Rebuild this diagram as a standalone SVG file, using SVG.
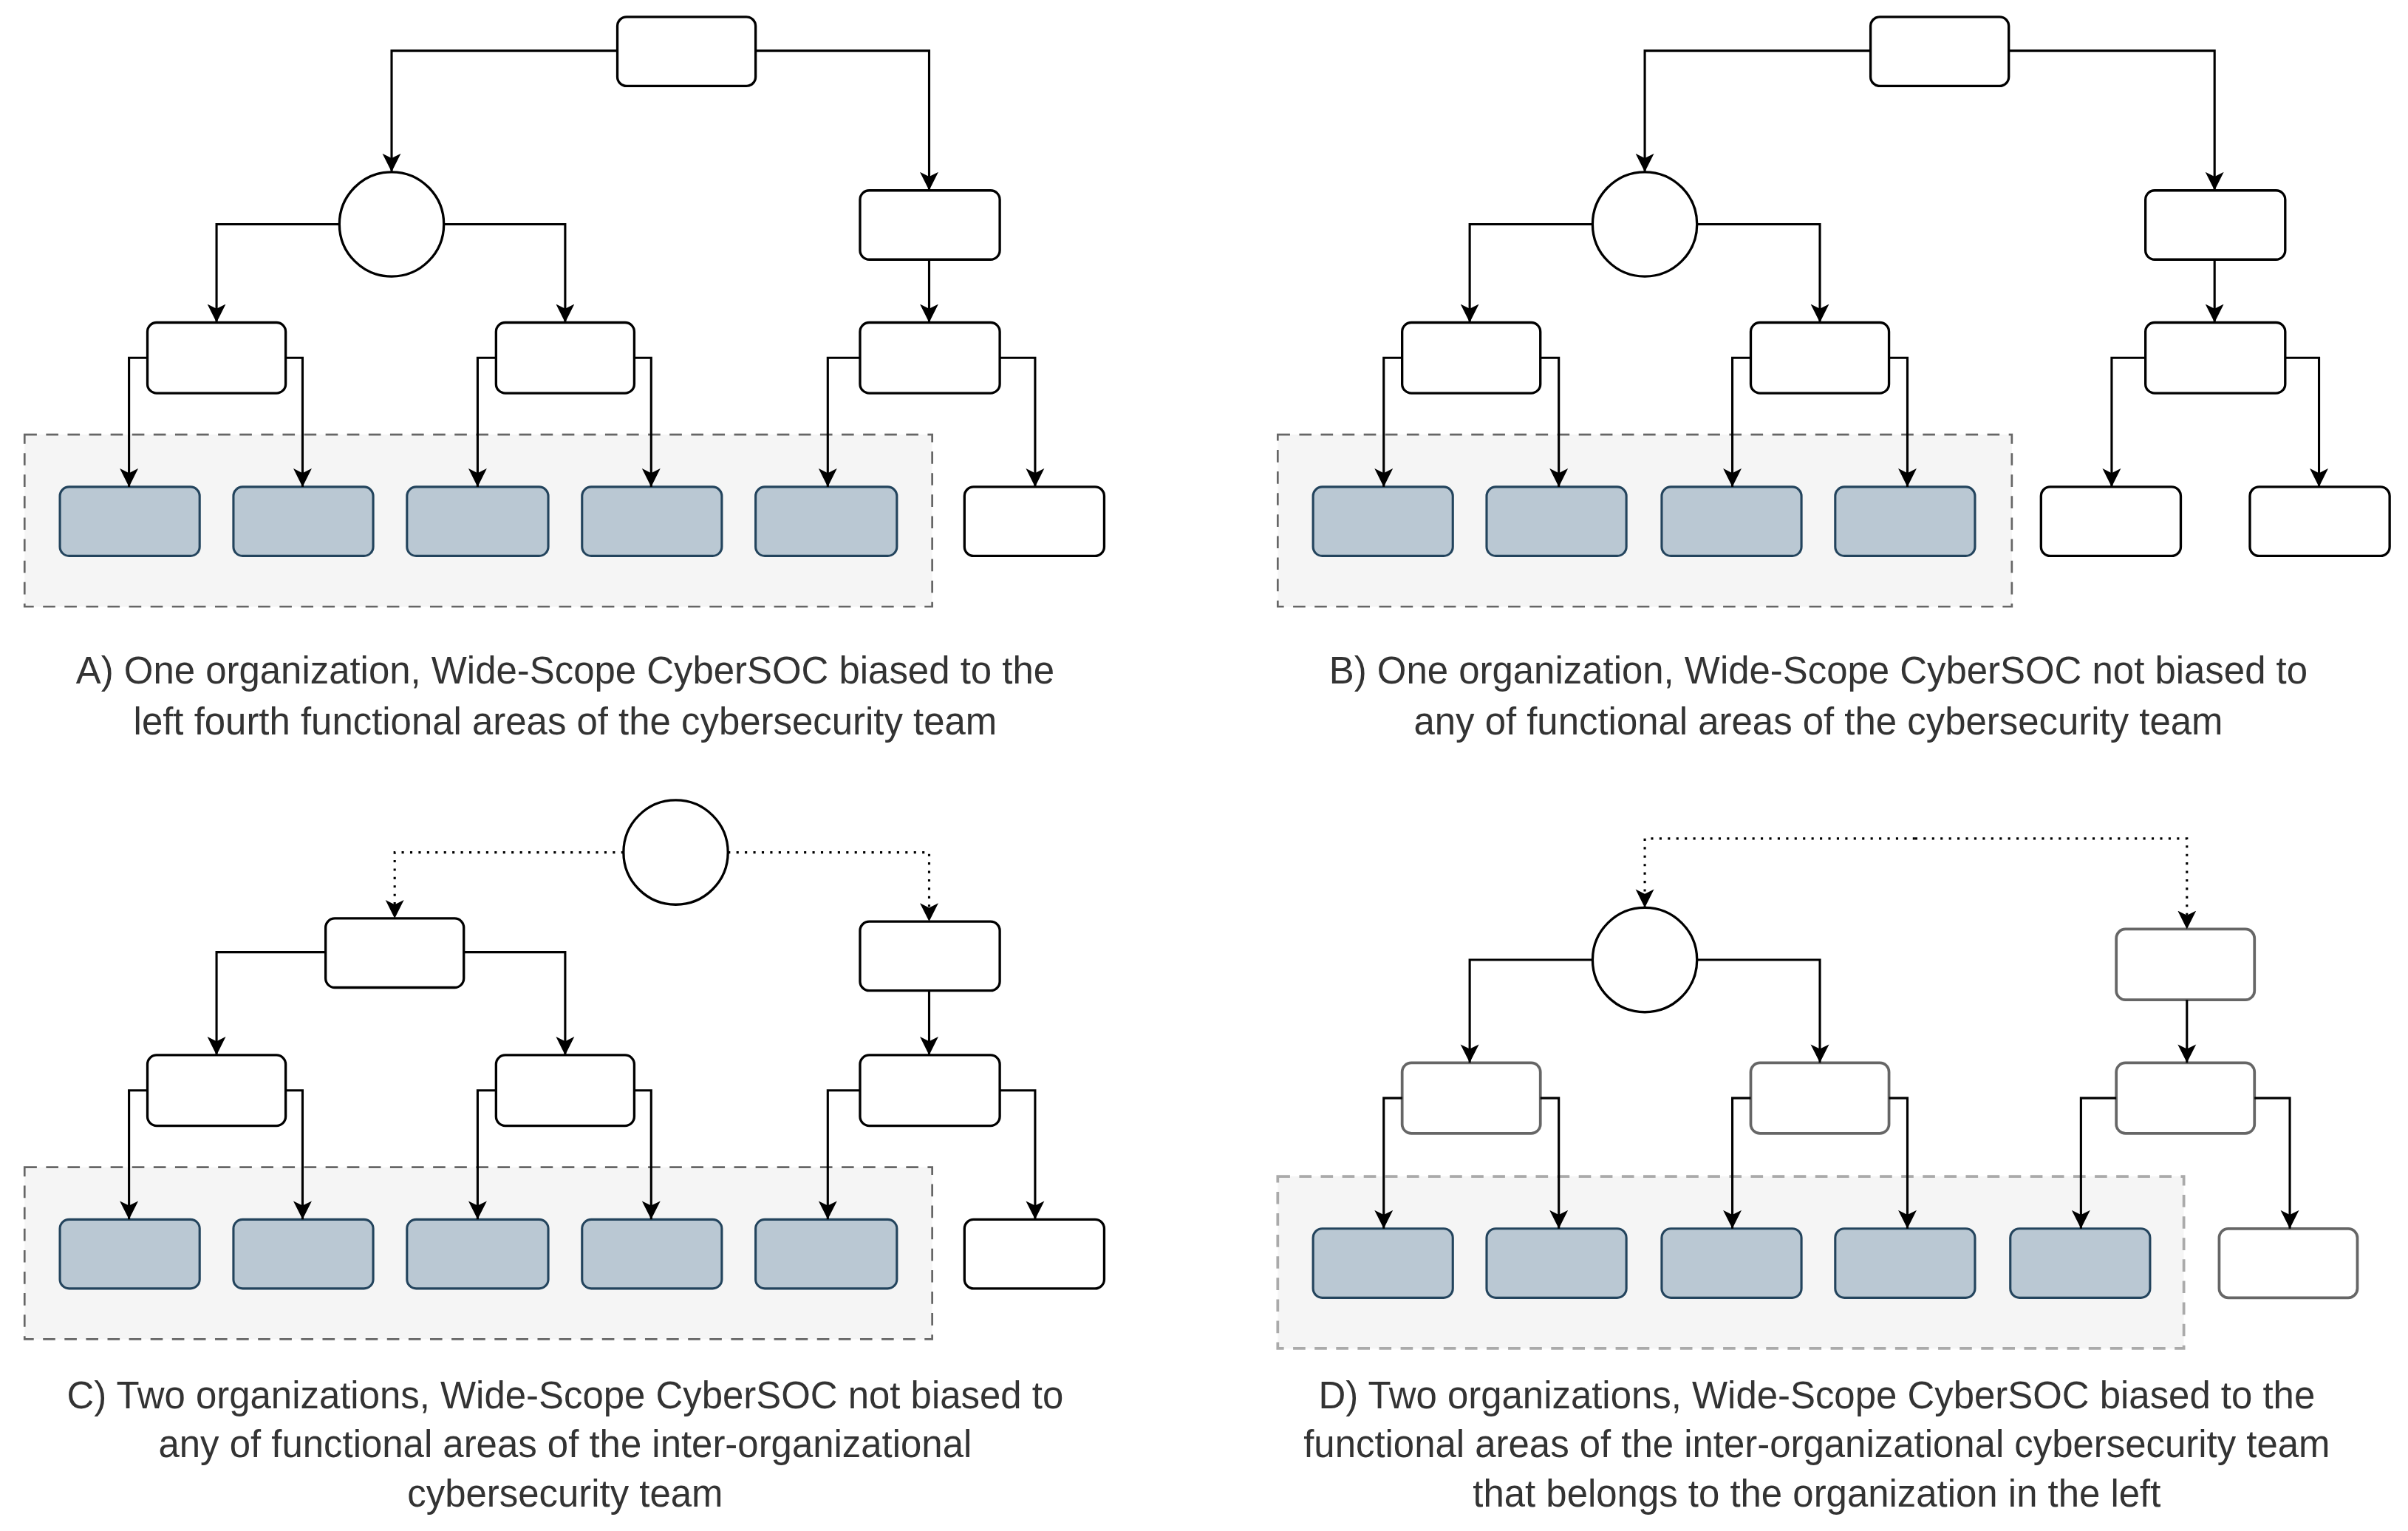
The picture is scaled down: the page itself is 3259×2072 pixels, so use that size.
<svg xmlns="http://www.w3.org/2000/svg" width="3259" height="2072" viewBox="0 0 3259 2072">
<style>
.n{fill:#fff;stroke:#000;stroke-width:1.6}
.g{fill:#fff;stroke:#666;stroke-width:1.8}
.b{fill:#bac8d3;stroke:#23445d;stroke-width:1.5}
.grp{fill:#f5f5f5;stroke:#666;stroke-width:1.3;stroke-dasharray:8 6}
.grp2{fill:#f5f5f5;stroke:#aaa;stroke-width:1.8;stroke-dasharray:8 6}
.c path{fill:none;stroke:#000;stroke-width:1.5;marker-end:url(#ah)}
.c path.d{stroke-dasharray:1.5 4}
text{font-family:"Liberation Sans",Arial,sans-serif;font-size:24.5px;fill:#333;text-anchor:middle}
</style>
<defs><marker id="ah" markerUnits="userSpaceOnUse" markerWidth="14" markerHeight="14" refX="12" refY="6" orient="auto" viewBox="0 0 14 12"><path d="M0,0 L12,6 L0,12 L3,6 Z" fill="#000"/></marker></defs>
<rect width="3259" height="2072" fill="#fff"/>
<g transform="scale(2.0785)">
<!-- Panel A -->
<g id="A">
<rect id="A-grp" class="grp" x="16" y="283" width="591" height="112"/>
<g id="A-top"><rect class="n" x="402" y="11" width="90" height="45" rx="6"/></g>
<g id="A-circ"><circle class="n" cx="255" cy="146" r="34"/></g>
<g id="A-r1"><rect class="n" x="560" y="124" width="91" height="45" rx="6"/></g>
<g id="A-m1"><rect class="n" x="96" y="210" width="90" height="46" rx="6"/></g>
<g id="A-m2"><rect class="n" x="323" y="210" width="90" height="46" rx="6"/></g>
<g id="A-m3"><rect class="n" x="560" y="210" width="91" height="46" rx="6"/></g>
<g id="A-b1"><rect class="b" x="39" y="317" width="91" height="45" rx="6"/></g>
<g id="A-b2"><rect class="b" x="152" y="317" width="91" height="45" rx="6"/></g>
<g id="A-b3"><rect class="b" x="265" y="317" width="92" height="45" rx="6"/></g>
<g id="A-b4"><rect class="b" x="379" y="317" width="91" height="45" rx="6"/></g>
<g id="A-b5"><rect class="b" x="492" y="317" width="92" height="45" rx="6"/></g>
<g id="A-w"><rect class="n" x="628" y="317" width="91" height="45" rx="6"/></g>
<text x="368" y="445">A) One organization, Wide-Scope CyberSOC biased to the</text>
<text x="368" y="478">left fourth functional areas of the cybersecurity team</text>
</g>
<!-- Panel B -->
<g id="B">
<rect id="B-grp" class="grp" x="832" y="283" width="478" height="112"/>
<g id="B-top"><rect class="n" x="1218" y="11" width="90" height="45" rx="6"/></g>
<g id="B-circ"><circle class="n" cx="1071" cy="146" r="34"/></g>
<g id="B-r1"><rect class="n" x="1397" y="124" width="91" height="45" rx="6"/></g>
<g id="B-m1"><rect class="n" x="913" y="210" width="90" height="46" rx="6"/></g>
<g id="B-m2"><rect class="n" x="1140" y="210" width="90" height="46" rx="6"/></g>
<g id="B-m3"><rect class="n" x="1397" y="210" width="91" height="46" rx="6"/></g>
<g id="B-b1"><rect class="b" x="855" y="317" width="91" height="45" rx="6"/></g>
<g id="B-b2"><rect class="b" x="968" y="317" width="91" height="45" rx="6"/></g>
<g id="B-b3"><rect class="b" x="1082" y="317" width="91" height="45" rx="6"/></g>
<g id="B-b4"><rect class="b" x="1195" y="317" width="91" height="45" rx="6"/></g>
<g id="B-w1"><rect class="n" x="1329" y="317" width="91" height="45" rx="6"/></g>
<g id="B-w2"><rect class="n" x="1465" y="317" width="91" height="45" rx="6"/></g>
<text x="1184" y="445">B) One organization, Wide-Scope CyberSOC not biased to</text>
<text x="1184" y="478">any of functional areas of the cybersecurity team</text>
</g>
<!-- Panel C -->
<g id="C">
<rect id="C-grp" class="grp" x="16" y="760" width="591" height="112"/>
<g id="C-circ"><circle class="n" cx="440" cy="555" r="34"/></g>
<g id="C-top"><rect class="n" x="212" y="598" width="90" height="45" rx="6"/></g>
<g id="C-r1"><rect class="n" x="560" y="600" width="91" height="45" rx="6"/></g>
<g id="C-m1"><rect class="n" x="96" y="687" width="90" height="46" rx="6"/></g>
<g id="C-m2"><rect class="n" x="323" y="687" width="90" height="46" rx="6"/></g>
<g id="C-m3"><rect class="n" x="560" y="687" width="91" height="46" rx="6"/></g>
<g id="C-b1"><rect class="b" x="39" y="794" width="91" height="45" rx="6"/></g>
<g id="C-b2"><rect class="b" x="152" y="794" width="91" height="45" rx="6"/></g>
<g id="C-b3"><rect class="b" x="265" y="794" width="92" height="45" rx="6"/></g>
<g id="C-b4"><rect class="b" x="379" y="794" width="91" height="45" rx="6"/></g>
<g id="C-b5"><rect class="b" x="492" y="794" width="92" height="45" rx="6"/></g>
<g id="C-w"><rect class="n" x="628" y="794" width="91" height="45" rx="6"/></g>
<text x="368" y="917">C) Two organizations, Wide-Scope CyberSOC not biased to</text>
<text x="368" y="949">any of functional areas of the inter-organizational</text>
<text x="368" y="981">cybersecurity team</text>
</g>
<!-- Panel D -->
<g id="D">
<rect id="D-grp" class="grp2" x="832" y="766" width="590" height="112"/>
<g id="D-circ"><circle class="n" cx="1071" cy="625" r="34"/></g>
<g id="D-r1"><rect class="g" x="1378" y="605" width="90" height="46" rx="6"/></g>
<g id="D-m1"><rect class="g" x="913" y="692" width="90" height="46" rx="6"/></g>
<g id="D-m2"><rect class="g" x="1140" y="692" width="90" height="46" rx="6"/></g>
<g id="D-m3"><rect class="g" x="1378" y="692" width="90" height="46" rx="6"/></g>
<g id="D-b1"><rect class="b" x="855" y="800" width="91" height="45" rx="6"/></g>
<g id="D-b2"><rect class="b" x="968" y="800" width="91" height="45" rx="6"/></g>
<g id="D-b3"><rect class="b" x="1082" y="800" width="91" height="45" rx="6"/></g>
<g id="D-b4"><rect class="b" x="1195" y="800" width="91" height="45" rx="6"/></g>
<g id="D-b5"><rect class="b" x="1309" y="800" width="91" height="45" rx="6"/></g>
<g id="D-w"><rect class="g" x="1445" y="800" width="90" height="45" rx="6"/></g>
<text x="1183" y="917">D) Two organizations, Wide-Scope CyberSOC biased to the</text>
<text x="1183" y="949">functional areas of the inter-organizational cybersecurity team</text>
<text x="1183" y="981">that belongs to the organization in the left</text>
</g>
<g id="connectors" class="c">
<path d="M402,33 H255 V112"/><path d="M492,33 H605 V124"/><path d="M221,146 H141 V210"/><path d="M289,146 H368 V210"/><path d="M605,169 V210"/>
<path d="M96,233 H84 V317"/><path d="M186,233 H197 V317"/><path d="M323,233 H311 V317"/><path d="M413,233 H424 V317"/><path d="M560,233 H539 V317"/><path d="M651,233 H674 V317"/>
<path d="M1218,33 H1071 V112"/><path d="M1308,33 H1442 V124"/><path d="M1037,146 H957 V210"/><path d="M1105,146 H1185 V210"/><path d="M1442,169 V210"/>
<path d="M913,233 H901 V317"/><path d="M1003,233 H1015 V317"/><path d="M1140,233 H1128 V317"/><path d="M1230,233 H1242 V317"/><path d="M1397,233 H1375 V317"/><path d="M1488,233 H1510 V317"/>
<path class="d" d="M406,555 H257 V598"/><path class="d" d="M474,555 H605 V600"/>
<path d="M212,620 H141 V687"/><path d="M302,620 H368 V687"/><path d="M605,645 V687"/>
<path d="M96,710 H84 V794"/><path d="M186,710 H197 V794"/><path d="M323,710 H311 V794"/><path d="M413,710 H424 V794"/><path d="M560,710 H539 V794"/><path d="M651,710 H674 V794"/>
<path class="d" d="M1247,546 H1071 V591"/><path class="d" d="M1247,546 H1424 V605"/>
<path d="M1037,625 H957 V692"/><path d="M1105,625 H1185 V692"/><path d="M1424,651 V692"/>
<path d="M913,715 H901 V800"/><path d="M1003,715 H1015 V800"/><path d="M1140,715 H1128 V800"/><path d="M1230,715 H1242 V800"/><path d="M1378,715 H1355 V800"/><path d="M1468,715 H1491 V800"/>
</g>
</g>
</svg>
